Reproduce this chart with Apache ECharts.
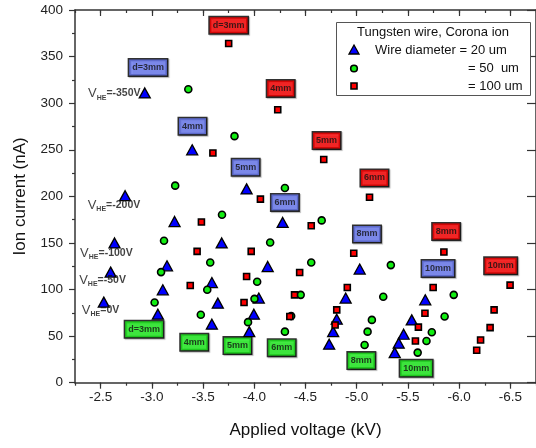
<!DOCTYPE html>
<html><head><meta charset="utf-8">
<script src="https://cdn.jsdelivr.net/npm/echarts@6/dist/echarts.min.js"></script>
<style>html,body{margin:0;padding:0;background:#fff}#c{width:536px;height:448px}</style>
</head><body><div id="c"></div>
<script>
// ---- data: [applied voltage (kV), ion current (nA)] ----
const blue20 = [
  [-2.931,311],[-3.394,250],[-3.925,208],[-2.739,200.7],[-3.222,173],[-4.277,172],
  [-2.636,150],[-3.682,150],[-3.148,125.5],[-4.131,124.7],[-2.598,118.7],[-3.586,107.5],
  [-3.107,99.7],[-4.044,90.8],[-2.531,86.5],[-3.644,85.4],[-3.059,73.5],[-3.996,73.5],
  [-3.586,62.8],[-3.951,54.8],[-5.029,122],[-4.892,90.8],[-5.669,89],[-4.805,68.2],
  [-5.537,67.4],[-4.770,54.8],[-5.458,52],[-5.410,42.4],[-4.731,41.3],[-5.371,32.3]
];
const green50 = [
  [-3.356,315],[-3.807,264.6],[-3.228,211.5],[-4.299,209],[-3.685,180.3],[-3.119,152.4],
  [-4.155,150.5],[-3.570,129],[-3.090,118.7],[-4.028,108.3],[-3.541,99.7],[-4.002,90],
  [-3.027,86],[-3.478,73],[-3.939,65],[-4.299,54.8],[-4.658,174.2],[-4.556,129],
  [-5.333,126.2],[-5.947,94.3],[-4.453,94.3],[-5.259,92.2],[-5.858,71],[-5.148,67.4],
  [-5.106,54.8],[-5.733,54.2],[-5.681,44.8],[-5.077,40.5],[-5.595,32.3],[-4.360,71.5]
];
const red100 = [
  [-3.750,364],[-4.229,293],[-3.596,246.6],[-4.060,197],[-4.678,239.5],[-5.125,199],
  [-3.484,172.5],[-3.442,140.9],[-3.970,140.9],[-3.925,114],[-3.375,104.3],[-4.393,94.3],
  [-3.900,86],[-4.347,71],[-4.556,168.5],[-5.851,140.2],[-4.971,139],[-4.443,118.3],
  [-6.497,104.7],[-5.746,102.2],[-4.908,102.2],[-6.341,78.2],[-4.805,78.2],[-5.666,74.6],
  [-4.789,62],[-5.602,59.6],[-6.302,59.1],[-6.209,45.9],[-5.573,44.8],[-6.171,34.8]
];
// distance labels: [x, y, text]
const labelsRed = [
  [-3.750,383.5,'d=3mm'],[-4.258,315.8,'4mm'],[-4.706,259.9,'5mm'],
  [-5.173,219.8,'6mm'],[-5.873,162.4,'8mm'],[-6.405,125.5,'10mm']
];
const labelsBlue = [
  [-2.963,338.4,'d=3mm'],[-3.397,275.3,'4mm'],[-3.916,231.2,'5mm'],
  [-4.299,193.5,'6mm'],[-5.100,159.6,'8mm'],[-5.794,122.6,'10mm']
];
const labelsGreen = [
  [-2.924,57.4,'d=3mm'],[-3.414,43.4,'4mm'],[-3.836,39.8,'5mm'],
  [-4.268,37.6,'6mm'],[-5.045,23.7,'8mm'],[-5.580,15.5,'10mm']
];
// V_HE annotations: [x, y, value text]
const vheLabels = [
  [-2.377,310.5,'-350V'],[-2.374,190.7,'-200V'],[-2.300,139.2,'-100V'],
  [-2.291,110.2,'-50V'],[-2.317,78.0,'0V']
];
const xMajorTicks = [-6.5,-6.0,-5.5,-5.0,-4.5,-4.0,-3.5,-3.0,-2.5];
const legendTitle = 'Tungsten wire, Corona ion';
const legendRows = ['Wire diameter = 20 um', '= 50  um', '= 100 um'];

const FONT = '"Liberation Sans", Arial, sans-serif';
const AX = '#333';
const chart = echarts.init(document.getElementById('c'));

function xAx(pos, major, inside) {
  const a = {
    type: 'value', position: pos, min: -6.75, max: -2.25, inverse: true,
    axisLine: { show: major, onZero: false, lineStyle: { color: AX, width: 1.5 } },
    splitLine: { show: false },
    axisTick: { inside: inside, length: major ? 6 : 3, lineStyle: { color: AX, width: 1.2 } },
    axisLabel: { show: false }
  };
  if (major) {
    a.axisTick.customValues = xMajorTicks;
  } else {
    a.interval = 0.25;
  }
  return a;
}
const xb = xAx('bottom', true, false);
xb.axisLabel = { show: true, customValues: xMajorTicks, formatter: v => v.toFixed(1),
  fontFamily: FONT, fontSize: 13.5, color: '#222', margin: 8 };
xb.name = 'Applied voltage (kV)';
xb.nameLocation = 'middle';
xb.nameGap = 39;
xb.nameTextStyle = { fontFamily: FONT, fontSize: 17, color: '#111' };

function labelSeries(arr, bg) {
  return {
    type: 'scatter', symbolSize: 0, silent: true, z: 5,
    data: arr.map(d => ({ value: [d[0], d[1]], name: d[2] })),
    label: {
      show: true, position: 'inside', formatter: p => p.name,
      fontFamily: FONT, fontSize: 9, fontWeight: 'bold', color: '#111',
      backgroundColor: bg, borderColor: '#000', borderWidth: 1.5,
      padding: [3, 3, 2, 3], lineHeight: 11,
      shadowColor: 'rgba(0,0,0,0.35)', shadowOffsetX: 1, shadowOffsetY: 1, shadowBlur: 1
    }
  };
}

chart.setOption({
  animation: false,
  backgroundColor: '#fff',
  grid: { left: 75, top: 10, right: -7.6, bottom: 65.3, containLabel: false },
  xAxis: [ xb, xAx('bottom', false, false), xAx('top', true, true), xAx('top', false, true) ],
  yAxis: [
    {
      type: 'value', position: 'left', min: 0, max: 400, interval: 50,
      axisLine: { show: true, onZero: false, lineStyle: { color: AX, width: 1.5 } },
      axisTick: { inside: false, length: 6, lineStyle: { color: AX, width: 1.2 } },
      minorTick: { show: true, splitNumber: 2, length: 3, lineStyle: { color: AX, width: 1.2 } },
      splitLine: { show: false },
      axisLabel: { fontFamily: FONT, fontSize: 13.5, color: '#222', margin: 12 },
      name: 'Ion current (nA)', nameLocation: 'middle', nameGap: 46,
      nameTextStyle: { fontFamily: FONT, fontSize: 17, color: '#111' }
    },
    {
      type: 'value', position: 'right', min: 0, max: 400, interval: 50,
      axisLine: { show: true, onZero: false, lineStyle: { color: AX, width: 1.5 } },
      axisTick: { inside: true, length: 9, lineStyle: { color: AX, width: 1.2 } },
      splitLine: { show: false }, axisLabel: { show: false }
    }
  ],
  series: [
    { name: '20 um', type: 'scatter', data: blue20, symbol: 'triangle', symbolSize: [11, 10],
      itemStyle: { color: '#0000ff', borderColor: '#000', borderWidth: 1.3, opacity: 1 }, z: 3 },
    { name: '50 um', type: 'scatter', data: green50, symbol: 'circle', symbolSize: 7,
      itemStyle: { color: '#11ee11', borderColor: '#000', borderWidth: 1.6, opacity: 1 }, z: 3 },
    { name: '100 um', type: 'scatter', data: red100, symbol: 'rect', symbolSize: 6,
      itemStyle: { color: '#ff0000', borderColor: '#000', borderWidth: 1.6, opacity: 1 }, z: 4 },
    labelSeries(labelsRed, '#ff0000'),
    labelSeries(labelsBlue, '#6b7cf5'),
    labelSeries(labelsGreen, '#1ef01e'),
    {
      type: 'scatter', symbolSize: 0, silent: true, z: 5,
      data: vheLabels.map(d => ({ value: [d[0], d[1]], name: d[2] })),
      label: {
        show: true, position: 'right', distance: 0,
        formatter: p => '{v|V}{s|HE}{t|=' + p.name + '}',
        rich: {
          v: { fontFamily: FONT, fontSize: 13, color: '#111', lineHeight: 16 },
          s: { fontFamily: FONT, fontSize: 7, color: '#111', fontWeight: 'bold', padding: [9, 0, 0, 0], lineHeight: 16 },
          t: { fontFamily: FONT, fontSize: 10.5, color: '#111', fontWeight: 'bold', lineHeight: 16 }
        }
      }
    }
  ],
  graphic: [
    { type: 'rect', shape: { x: 336.5, y: 22.5, width: 194, height: 73 },
      style: { fill: '#fff', stroke: '#555', lineWidth: 1 }, z: 10 },
    { type: 'text', x: 433, y: 32.5, z: 11,
      style: { text: legendTitle, font: '13px ' + FONT, fill: '#111', textAlign: 'center', textVerticalAlign: 'middle' } },
    { type: 'polygon', shape: { points: [[354, 45], [359, 54], [349, 54]] },
      style: { fill: '#0000ff', stroke: '#000', lineWidth: 1.3 }, z: 11 },
    { type: 'circle', shape: { cx: 354, cy: 68.5, r: 3.3 },
      style: { fill: '#11ee11', stroke: '#000', lineWidth: 1.6 }, z: 11 },
    { type: 'rect', shape: { x: 351, y: 83, width: 6, height: 6 },
      style: { fill: '#ff0000', stroke: '#000', lineWidth: 1.6 }, z: 11 },
    { type: 'text', x: 375, y: 50.5, z: 11,
      style: { text: legendRows[0], font: '13px ' + FONT, fill: '#111', textAlign: 'left', textVerticalAlign: 'middle' } },
    { type: 'text', x: 468, y: 68.5, z: 11,
      style: { text: legendRows[1], font: '13px ' + FONT, fill: '#111', textAlign: 'left', textVerticalAlign: 'middle', whiteSpace: 'pre' } },
    { type: 'text', x: 468, y: 86.5, z: 11,
      style: { text: legendRows[2], font: '13px ' + FONT, fill: '#111', textAlign: 'left', textVerticalAlign: 'middle' } }
  ]
});
</script>
</body></html>
